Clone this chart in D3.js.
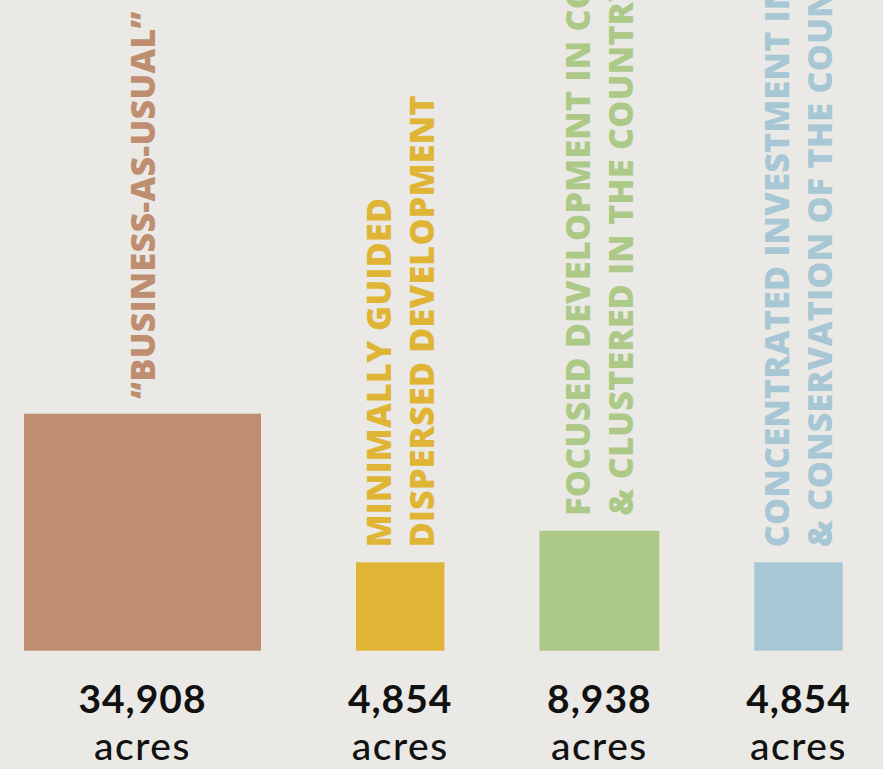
<!DOCTYPE html>
<html>
<head>
<meta charset="utf-8">
<script src="https://cdn.jsdelivr.net/npm/d3@7/dist/d3.min.js"></script>
<style>
  html, body { margin: 0; padding: 0; background: #EAE9E5; }
  svg { display: block; }
</style>
</head>
<body>
<svg id="chart" width="883" height="769"></svg>
<script>
// ---- data ----
const categories = ["business", "minimal", "focused", "concentrated"];
const labels = [
  ["\u201CBUSINESS-AS-USUAL\u201D"],
  ["MINIMALLY GUIDED", "DISPERSED DEVELOPMENT"],
  ["FOCUSED DEVELOPMENT IN COMMUNITIES", "& CLUSTERED IN THE COUNTRYSIDE"],
  ["CONCENTRATED INVESTMENT IN COMMUNITIES", "& CONSERVATION OF THE COUNTRYSIDE"]
];
const acres = [34908, 4854, 8938, 4854];
const unitLabel = "acres";

// ---- styles / layout ----
const colors = ["#BF8E70", "#E0B535", "#ADC988", "#A8C7D5"];
const W = 883, H = 769;
const baseY = 650.7;
const startX = 24;
const gap = 95;

const svg = d3.select("#chart");
svg.append("rect").attr("width", W).attr("height", H).attr("fill", "#EAE9E5");

// square side proportional to sqrt(acres) -> area proportional to acres
const side = d3.scaleSqrt().domain([0, d3.max(acres)]).range([0, 237]);

let x = startX;
const items = acres.map((v, i) => {
  const s = side(v);
  const it = { i, v, s, x, cx: x + s / 2, label: labels[i], color: colors[i], cat: categories[i] };
  x += s + gap;
  return it;
});

const fmt = d3.format(",");

const g = svg.selectAll("g.item").data(items).join("g").attr("class", "item");

g.append("rect")
  .attr("x", d => d.x)
  .attr("y", d => baseY - d.s)
  .attr("width", d => d.s)
  .attr("height", d => d.s)
  .attr("fill", d => d.color);

// rotated labels
const capH = 25, lineGap = 43, labelGap = 15;
g.each(function(d) {
  const n = d.label.length;
  const blockW = (n - 1) * lineGap + capH;
  const firstBase = d.cx - blockW / 2 + capH;
  const y0 = baseY - d.s - labelGap;
  d3.select(this).selectAll("text.lab").data(d.label).join("text")
    .attr("class", "lab")
    .attr("transform", (t, j) => `translate(${firstBase + j * lineGap},${y0}) rotate(-90)`)
    .attr("text-anchor", "start")
    .attr("fill", d.color)
    .style("font-family", "'Open Sans', Lato, sans-serif")
    .style("font-weight", 800)
    .style("font-size", "34px")
    .style("letter-spacing", "0.3px")
    .text(t => t);
});

// value labels
g.append("text")
  .attr("x", d => d.cx)
  .attr("y", 713)
  .attr("text-anchor", "middle")
  .attr("fill", "#111")
  .style("font-family", "Lato, sans-serif")
  .style("font-weight", 700)
  .style("font-size", "39px")
  .style("letter-spacing", "1px")
  .text(d => fmt(d.v));

g.append("text")
  .attr("x", d => d.cx)
  .attr("y", 760)
  .attr("text-anchor", "middle")
  .attr("fill", "#111")
  .style("font-family", "Lato, sans-serif")
  .style("font-weight", 500)
  .style("font-size", "39px")
  .style("letter-spacing", "1.5px")
  .text(unitLabel);
</script>
</body>
</html>
